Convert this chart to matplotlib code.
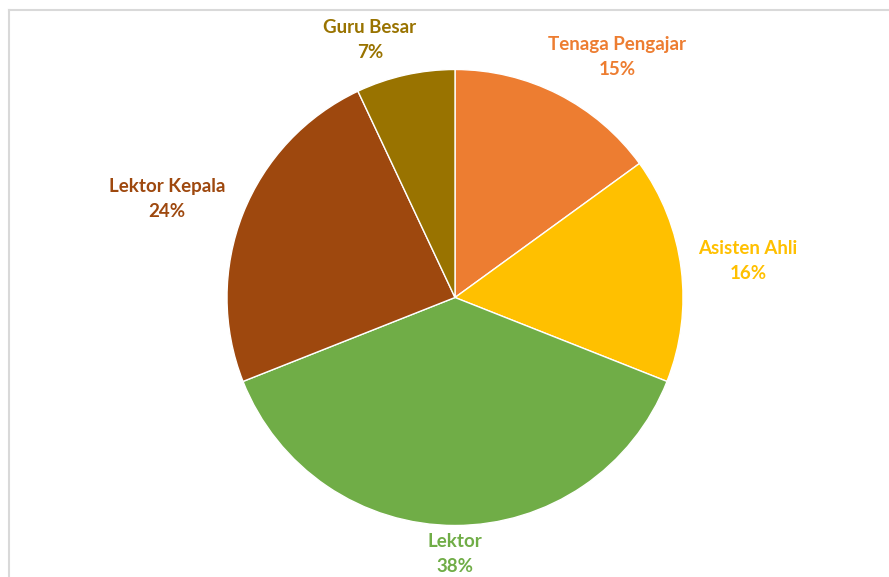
import matplotlib
matplotlib.use("Agg")
import matplotlib.pyplot as plt
from matplotlib.lines import Line2D

# data
labels = ["Tenaga Pengajar", "Asisten Ahli", "Lektor", "Lektor Kepala", "Guru Besar"]
values = [15, 16, 38, 24, 7]
colors = ["#ED7D31", "#FFC000", "#70AD47", "#9E480E", "#997300"]

# label positions in pixels (center of two-line block)
label_px = [(617, 57), (748, 261), (455, 554), (167, 199), (370, 40)]

W, H = 889, 577
cx, cy, r = 455, 297.5, 228

plt.rcParams["font.family"] = ["Lato", "DejaVu Sans"]

fig = plt.figure(figsize=(W / 100, H / 100), dpi=100)
ax = fig.add_axes([(cx - r) / W, (H - cy - r) / H, 2 * r / W, 2 * r / H])
ax.pie(values, colors=colors, startangle=90, counterclock=False, radius=1,
       wedgeprops=dict(edgecolor="white", linewidth=1))
ax.set_xlim(-1, 1)
ax.set_ylim(-1, 1)
ax.set_aspect("equal")
ax.axis("off")

for lab, v, col, (px, py) in zip(labels, values, colors, label_px):
    x = (px - cx) / r
    y = (cy - py) / r
    ax.text(x, y, f"{lab}\n{v}%", ha="center", va="center", color=col,
            fontsize=13.5, fontweight="bold", linespacing=1.55, clip_on=False)

# chart frame (only top and left edges visible)
fig.add_artist(Line2D([9 / W, 1], [1 - 10 / H, 1 - 10 / H], color="#d9d9d9", lw=1.5,
                      transform=fig.transFigure))
fig.add_artist(Line2D([9 / W, 9 / W], [0, 1 - 10 / H], color="#d9d9d9", lw=1.5,
                      transform=fig.transFigure))

fig.savefig("out.png", dpi=100, facecolor="white")
